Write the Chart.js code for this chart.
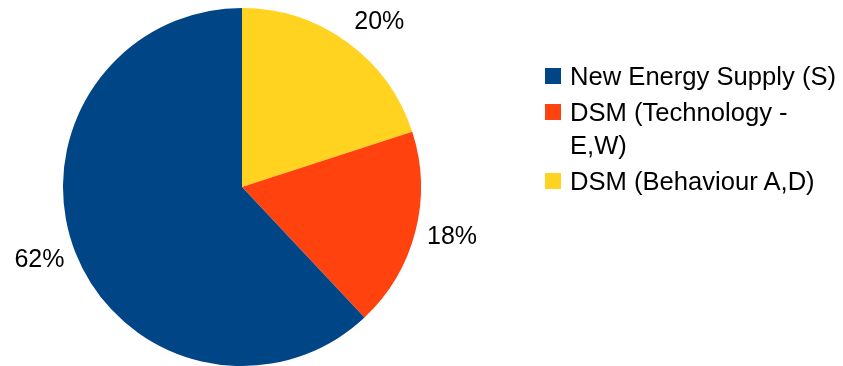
<!DOCTYPE html>
<html lang="en">
<head>
  <meta charset="UTF-8">
  <title>Energy supply vs DSM</title>
  <script src="https://cdn.jsdelivr.net/npm/chart.js"></script>
  <style>
    body { margin: 0; background: #fff; font-family: "Liberation Sans", Arial, sans-serif; }
    .wrap { position: relative; width: 843px; height: 366px; overflow: hidden; }
    /* legend on the right, drawn as html so the long label can wrap */
    #legend {
      position: absolute; left: 545px; top: 59.5px;
      margin: 0; padding: 0; list-style: none;
    }
    #legend li {
      display: flex; align-items: flex-start;
      font-size: 25.6px; line-height: 33px; color: #000;
      margin-bottom: 3px;
    }
    #legend .box { width: 16px; height: 16px; margin-top: 8.5px; margin-right: 9px; flex: none; }
    #legend .txt { max-width: 273px; }
  </style>
</head>
<body>
<div class="wrap">
  <canvas id="pie" width="843" height="366"></canvas>
  <ul id="legend"></ul>
</div>

<script>
  // legend order
  const categories = ['New Energy Supply (S)', 'DSM (Technology - E,W)', 'DSM (Behaviour A,D)'];
  const shares     = [62, 18, 20];
  const colors     = ['#004586', '#ff420e', '#ffd320'];

  // legend
  const legend = document.getElementById('legend');
  categories.forEach((c, i) => {
    const li = document.createElement('li');
    li.innerHTML = `<span class="box" style="background:${colors[i]}"></span><span class="txt">${c}</span>`;
    legend.appendChild(li);
  });

  // percentage labels outside the slices
  const outsideLabels = {
    id: 'outsideLabels',
    afterDatasetsDraw(chart) {
      const ctx = chart.ctx;
      const meta = chart.getDatasetMeta(0);
      const vals = chart.data.datasets[0].data;
      ctx.save();
      ctx.font = '25px "Liberation Sans", Arial, sans-serif';
      ctx.fillStyle = '#000';
      meta.data.forEach((arc, i) => {
        const mid = (arc.startAngle + arc.endAngle) / 2;
        const dx = Math.cos(mid), dy = Math.sin(mid);
        const d = arc.outerRadius + 12;
        const x = arc.x + dx * d;
        let y = arc.y + dy * d;
        ctx.textAlign = dx > 0.2 ? 'left' : dx < -0.2 ? 'right' : 'center';
        if (dy < -0.7) { ctx.textBaseline = 'bottom'; y += 2; }
        else if (dy > 0.7) ctx.textBaseline = 'top';
        else { ctx.textBaseline = 'middle'; y += 3; }
        ctx.fillText(vals[i] + '%', x, y);
      });
      ctx.restore();
    }
  };

  // slices run clockwise from the top: yellow, red, blue
  const order = [2, 1, 0];

  new Chart(document.getElementById('pie').getContext('2d'), {
    type: 'pie',
    data: {
      labels: order.map(i => categories[i]),
      datasets: [{
        data: order.map(i => shares[i]),
        backgroundColor: order.map(i => colors[i]),
        borderWidth: 0
      }]
    },
    options: {
      responsive: false,
      animation: false,
      layout: { padding: { left: 63, right: 422, top: 8, bottom: 0 } },
      plugins: {
        legend: { display: false },
        tooltip: { enabled: false }
      }
    },
    plugins: [outsideLabels]
  });
</script>
</body>
</html>
